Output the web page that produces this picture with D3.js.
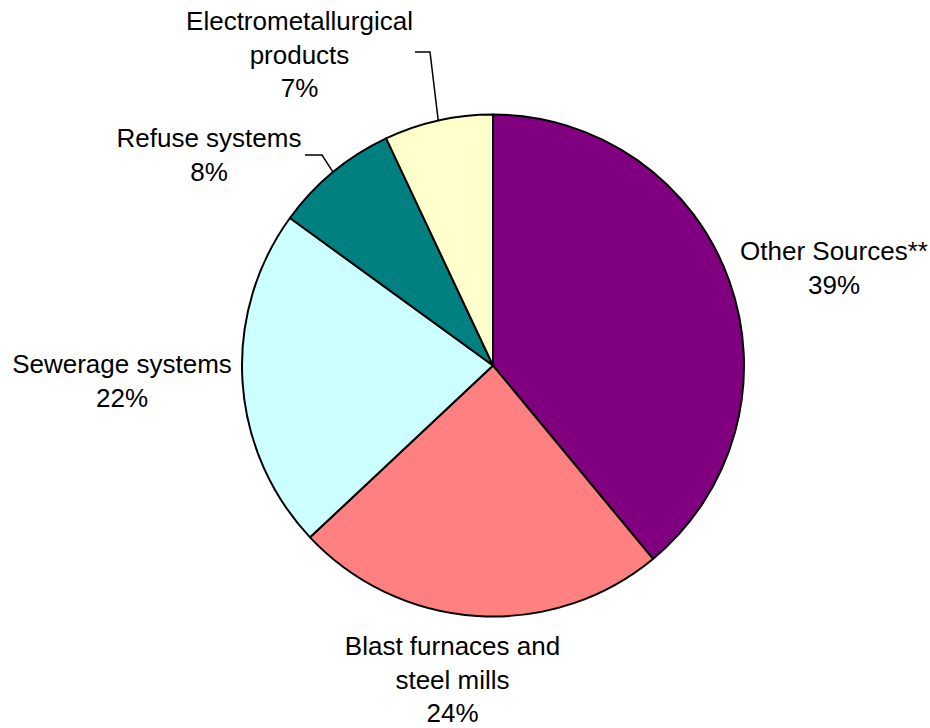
<!DOCTYPE html>
<html>
<head>
<meta charset="utf-8">
<script src="https://cdn.jsdelivr.net/npm/d3@7"></script>
<style>
  html, body { margin: 0; padding: 0; background: #ffffff; }
  svg { display: block; }
  text { font-family: "Liberation Sans", Arial, sans-serif; font-size: 26px; fill: #000; }
</style>
</head>
<body>
<svg id="chart" width="930" height="728"></svg>
<script>
// Shares of emissions by source (percent)
const categories = [
  "Other Sources**",
  "Blast furnaces and steel mills",
  "Sewerage systems",
  "Refuse systems",
  "Electrometallurgical products"
];
const values = [39, 24, 22, 8, 7];
const labelLines = [
  ["Other Sources**"],
  ["Blast furnaces and", "steel mills"],
  ["Sewerage systems"],
  ["Refuse systems"],
  ["Electrometallurgical", "products"]
];
const colors = ["#800080", "#FF8080", "#CCFFFF", "#008080", "#FFFFCC"];

const width = 930, height = 728;
const cx = 493, cy = 365.5, radius = 251;
const lineStep = 33.5;

// Label anchor (centre x, first baseline y) and leader-line elbow per slice
const labelLayout = [
  { x: 834, y: 260 },
  { x: 452.5, y: 655 },
  { x: 122, y: 373 },
  { x: 209, y: 147, leader: [[305, 155], [322, 155]] },
  { x: 299.5, y: 30, leader: [[415, 52], [430, 52]] }
];

const svg = d3.select("#chart");
const g = svg.append("g").attr("transform", `translate(${cx},${cy})`);

const data = categories.map((c, i) => ({ name: c, value: values[i], i }));

const pie = d3.pie()
  .value(d => d.value)
  .sort(null)
  .startAngle(0)
  .endAngle(2 * Math.PI);

const arcs = pie(data);
const arc = d3.arc().innerRadius(0).outerRadius(radius);
const edgeArc = d3.arc().innerRadius(radius).outerRadius(radius);

g.selectAll("path.slice")
  .data(arcs)
  .join("path")
  .attr("class", "slice")
  .attr("d", arc)
  .attr("fill", d => colors[d.data.i])
  .attr("stroke", "#000")
  .attr("stroke-width", 2)
  .attr("stroke-linejoin", "round");

// Leader lines from label elbow to the slice's outer edge midpoint
arcs.forEach(d => {
  const lay = labelLayout[d.data.i];
  if (!lay.leader) return;
  const [ex, ey] = edgeArc.centroid(d);
  const pts = lay.leader.concat([[cx + ex, cy + ey]]);
  svg.append("path")
    .attr("d", d3.line()(pts))
    .attr("fill", "none")
    .attr("stroke", "#000")
    .attr("stroke-width", 1.5);
});

// Data labels: name lines plus percentage
arcs.forEach(d => {
  const lay = labelLayout[d.data.i];
  const lines = labelLines[d.data.i].concat([d3.format(".0f")(d.data.value) + "%"]);
  const t = svg.append("text")
    .attr("text-anchor", "middle")
    .attr("x", lay.x)
    .attr("y", lay.y);
  lines.forEach((ln, k) => {
    t.append("tspan")
      .attr("x", lay.x)
      .attr("y", lay.y + k * lineStep)
      .text(ln);
  });
});
</script>
</body>
</html>
